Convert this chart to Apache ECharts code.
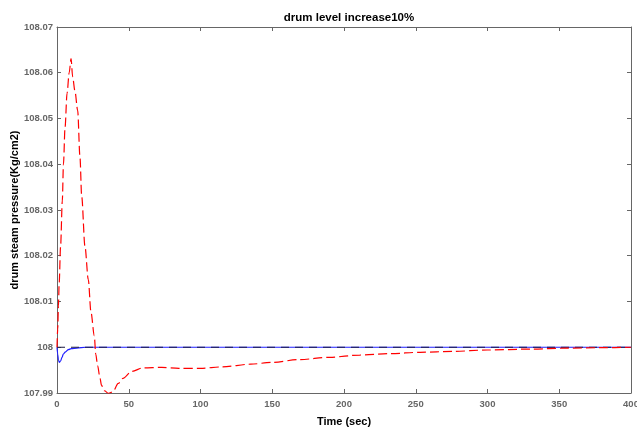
<!DOCTYPE html>
<html>
<head>
<meta charset="utf-8">
<title>drum level increase10%</title>
<script src="https://cdn.jsdelivr.net/npm/echarts@6/dist/echarts.min.js"></script>
<style>
  html, body { margin: 0; padding: 0; background: #fff; }
  #chart { width: 637px; height: 429px; }
</style>
</head>
<body>
<div id="chart"></div>
<script>
// Drum steam pressure response (Kg/cm2) after a 10% drum level increase.
const chartTitle = 'drum level increase10%';
const xAxisName = 'Time (sec)';
const yAxisName = 'drum steam pressure(Kg/cm2)';

const xTickLabels = ['0', '50', '100', '150', '200', '250', '300', '350', '400'];
const yTickLabels = ['107.99', '108', '108.01', '108.02', '108.03', '108.04', '108.05', '108.06', '108.07'];

// Red dashed response: time (s) and pressure
const redTime = [0, 0.5, 1, 1.5, 2.5, 3.7, 4.5, 5.6, 7, 8.5, 9.8, 10.9, 12.5, 14.4, 16, 17.2, 19.5, 21.8, 23.7, 26,
  27, 28.3, 30, 31, 33, 36, 39, 42.7, 46, 52, 60, 73, 85, 100, 115, 135, 150, 169, 190, 211, 232, 253, 276,
  300, 330, 355, 380, 400];
const redValue = [108.0, 108.004, 108.009, 108.014, 108.022, 108.032, 108.040, 108.048, 108.0555, 108.060, 108.0631,
  108.0591, 108.056, 108.0518, 108.0416, 108.033, 108.022, 108.0148, 108.0076, 108.0025,
  107.9985, 107.996, 107.9932, 107.9917, 107.9905, 107.9899, 107.9903, 107.9921, 107.9932, 107.9947, 107.9955,
  107.9956, 107.9954, 107.9954, 107.9957, 107.9963, 107.9967, 107.9973, 107.9978, 107.9983, 107.9986, 107.9989,
  107.9991, 107.9994, 107.9996, 107.9998, 107.9999, 108.0];

// Blue solid response
const blueTime = [0, 0.5, 1, 1.6, 2.5, 3.5, 4.4, 6, 7.9, 10, 13.7, 20, 400];
const blueValue = [108.0, 107.9985, 107.9972, 107.9967, 107.997, 107.9978, 107.9985, 107.999, 107.9995, 107.9997,
  107.9998, 108.0, 108.0];

// Black dashed set point
const setTime = [0, 400];
const setValue = [108.0, 108.0];

const xMin = 0, xMax = 400, xStep = 50;
const yMin = 107.99, yMax = 108.07, yStep = 0.01;

const pairs = (xs, ys) => xs.map((x, i) => [x, ys[i]]);

const tickFont = { fontFamily: 'Liberation Sans, Arial, sans-serif', fontSize: 9.5, fontWeight: 'bold', color: '#666' };
const axisLineStyle = { color: '#666', width: 1 };

const xLabel = v => xTickLabels[Math.round((v - xMin) / xStep)];
const yLabel = v => yTickLabels[Math.round((v - yMin) / yStep)];

const chart = echarts.init(document.getElementById('chart'), null, { renderer: 'canvas' });

chart.setOption({
  animation: false,
  backgroundColor: '#fff',
  title: {
    text: chartTitle,
    left: 344,
    textAlign: 'center',
    top: 7,
    textStyle: { fontFamily: 'Liberation Sans, Arial, sans-serif', fontSize: 11.5, fontWeight: 'bold', color: '#000' }
  },
  grid: { left: 57, right: 6, top: 27, bottom: 36, containLabel: false, outerBoundsMode: 'none' },
  xAxis: [
    {
      type: 'value', min: xMin, max: xMax, interval: xStep, position: 'bottom',
      name: xAxisName, nameLocation: 'middle', nameGap: 23, nameMoveOverlap: false,
      nameTextStyle: { fontFamily: 'Liberation Sans, Arial, sans-serif', fontSize: 11, fontWeight: 'bold', color: '#000' },
      axisLine: { show: true, onZero: false, lineStyle: axisLineStyle },
      axisTick: { show: true, inside: true, length: 4, lineStyle: axisLineStyle },
      axisLabel: Object.assign({ margin: 6, formatter: xLabel }, tickFont),
      splitLine: { show: false }
    },
    {
      type: 'value', min: xMin, max: xMax, interval: xStep, position: 'top',
      axisLine: { show: true, onZero: false, lineStyle: axisLineStyle },
      axisTick: { show: true, inside: true, length: 4, lineStyle: axisLineStyle },
      axisLabel: { show: false },
      splitLine: { show: false }
    }
  ],
  yAxis: [
    {
      type: 'value', min: yMin, max: yMax, interval: yStep, position: 'left',
      name: yAxisName, nameLocation: 'middle', nameGap: 37, nameRotate: 90, nameMoveOverlap: false,
      nameTextStyle: { fontFamily: 'Liberation Sans, Arial, sans-serif', fontSize: 11, fontWeight: 'bold', color: '#000' },
      axisLine: { show: true, onZero: false, lineStyle: axisLineStyle },
      axisTick: { show: true, inside: true, length: 4, lineStyle: axisLineStyle },
      axisLabel: Object.assign({ margin: 4, formatter: yLabel }, tickFont),
      splitLine: { show: false }
    },
    {
      type: 'value', min: yMin, max: yMax, interval: yStep, position: 'right',
      axisLine: { show: true, onZero: false, lineStyle: axisLineStyle },
      axisTick: { show: true, inside: true, length: 4, lineStyle: axisLineStyle },
      axisLabel: { show: false },
      splitLine: { show: false }
    }
  ],
  series: [
    {
      name: 'blue', type: 'line', xAxisIndex: 0, yAxisIndex: 0,
      data: pairs(blueTime, blueValue), showSymbol: false, smooth: 0.3, smoothMonotone: 'x',
      lineStyle: { color: '#1f1fff', width: 1.2, type: 'solid' }, z: 2
    },
    {
      name: 'set point', type: 'line', xAxisIndex: 0, yAxisIndex: 0,
      data: pairs(setTime, setValue), showSymbol: false,
      lineStyle: { color: '#1a1a40', width: 1, type: [8, 6] }, z: 3
    },
    {
      name: 'red', type: 'line', xAxisIndex: 0, yAxisIndex: 0,
      data: pairs(redTime, redValue), showSymbol: false, smooth: 0.3, smoothMonotone: 'x',
      lineStyle: { color: '#ff0000', width: 1.2, type: [9, 4] }, z: 4
    }
  ]
});
</script>
</body>
</html>
